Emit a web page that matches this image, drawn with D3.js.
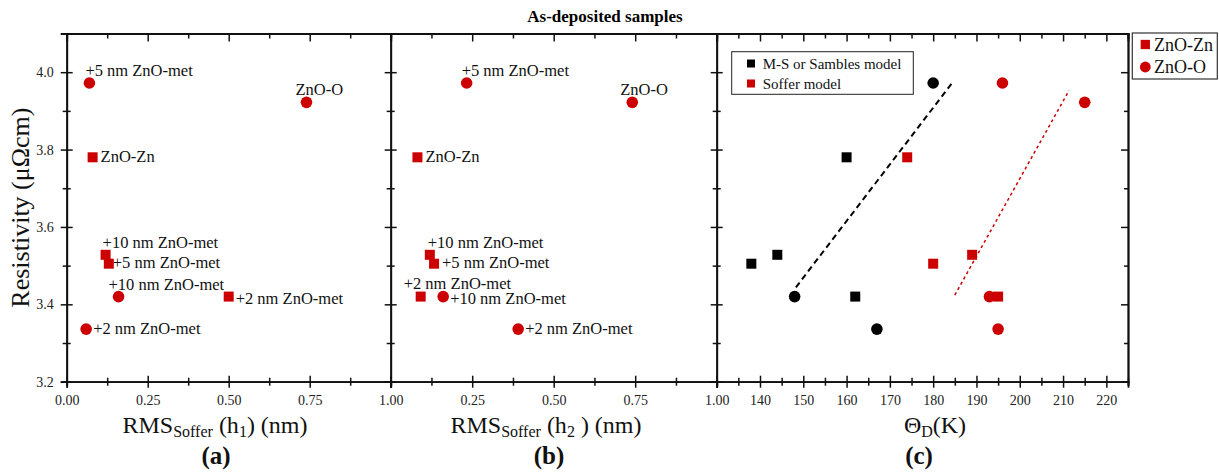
<!DOCTYPE html>
<html>
<head>
<meta charset="utf-8">
<script src="https://cdn.jsdelivr.net/npm/d3@7"></script>
<style>
  html, body { margin: 0; padding: 0; background: #fff; }
  svg { display: block; font-family: "Liberation Serif", "Times New Roman", serif; }
  svg text { font-family: "Liberation Serif", "Times New Roman", serif; }
</style>
</head>
<body>
<svg id="chart" width="1219" height="473"></svg>
<script>
// ---------------- DATA ----------------
const sampleLabels = ["+5 nm ZnO-met", "ZnO-O", "ZnO-Zn", "+10 nm ZnO-met", "+5 nm ZnO-met", "+10 nm ZnO-met", "+2 nm ZnO-met", "+2 nm ZnO-met"];
const sampleSeries = ["ZnO-O", "ZnO-O", "ZnO-Zn", "ZnO-Zn", "ZnO-Zn", "ZnO-O", "ZnO-Zn", "ZnO-O"];
const resistivity = [3.972, 3.922, 3.78, 3.528, 3.505, 3.42, 3.42, 3.336];
const rmsH1 = [0.07, 0.74, 0.08, 0.12, 0.13, 0.16, 0.50, 0.06];
const rmsH2 = [0.233, 0.741, 0.082, 0.12, 0.133, 0.161, 0.092, 0.391];
const thetaMS = [180, null, 160, 144, 138, 148, 162, 167];
const thetaSoffer = [196, 215, 174, 189, 180, 193, 195, 195];
const msFitTheta = [148.3, 184.5];
const msFitRes = [3.444, 3.974];
const sofferFitTheta = [185.0, 211.4];
const sofferFitRes = [3.424, 3.953];

const yTicks = [3.2, 3.4, 3.6, 3.8, 4.0];
const yMinor = [3.3, 3.5, 3.7, 3.9, 4.1];
const rmsTicks = [0, 0.25, 0.5, 0.75, 1.0];
const rmsMinor = [0.125, 0.375, 0.625, 0.875];
const thetaTicks = [140, 150, 160, 170, 180, 190, 200, 210, 220];
const thetaMinor = [135, 145, 155, 165, 175, 185, 195, 205, 215, 225];
const modelLegend = ["M-S or Sambles model", "Soffer model"];
const seriesLegend = ["ZnO-Zn", "ZnO-O"];

// -------------- LAYOUT / STYLE --------------
// label offsets (dx, dy) from marker centre for panels (a) and (b)
const labelOffA = [[-4, -7], [-11, -7], [8, 5], [-3, -7], [4, 4], [-10, -7], [7, 7], [7, 5]];
const labelOffB = [[-5, -7], [-12, -7], [8, 5], [-2, -7], [8, 4], [7, 7], [-17, -8], [7, 5]];
const RED = "#cc0000";
const FONT_LABEL = 16.5;
const SERIF = "'Liberation Serif', 'Times New Roman', serif";
const svg = d3.select("#chart");
const plotTop = 33.5, plotBottom = 381.7;
const y = d3.scaleLinear().domain([3.2, 4.1]).range([plotBottom, plotTop]);
const xA = d3.scaleLinear().domain([0, 1]).range([66.7, 390.7]);
const xB = d3.scaleLinear().domain([0, 1]).range([390.7, 716.7]);
const xC = d3.scaleLinear().domain([130, 225]).range([716.7, 1128]);

function drawMarker(g, shape, cx, cy, color, size) {
  if (shape === "ZnO-O") {
    g.append("circle").attr("cx", cx).attr("cy", cy).attr("r", size * 0.58).attr("fill", color);
  } else {
    g.append("rect").attr("x", cx - size / 2).attr("y", cy - size / 2)
      .attr("width", size).attr("height", size).attr("fill", color);
  }
}

function styleAxis(g) {
  g.attr("font-family", SERIF);
  g.select(".domain").attr("stroke", "#111").attr("stroke-width", 1.8);
  g.selectAll(".tick line").attr("stroke", "#111").attr("stroke-width", 1.5);
}

function frame(x, xMajor, xMinor, labelVals, opts) {
  const g = svg.append("g");
  const bMaj = g.append("g").attr("transform", `translate(0,${plotBottom})`)
    .call(d3.axisBottom(x).tickValues(xMajor).tickSizeOuter(0).tickSize(6)
      .tickFormat(d => labelVals.includes(d) ? d3.format(opts.fmt)(d) : ""));
  bMaj.selectAll(".tick line").attr("y1", -6);
  bMaj.selectAll(".tick text").attr("y", 23.3).attr("dy", 0).attr("font-size", 14)
    .attr("fill", "#222");
  styleAxis(bMaj);
  const bMin = g.append("g").attr("transform", `translate(0,${plotBottom})`)
    .call(d3.axisBottom(x).tickValues(xMinor).tickSizeOuter(0).tickSize(4).tickFormat(""));
  bMin.selectAll(".tick line").attr("y1", -4);
  styleAxis(bMin);
  const tMaj = g.append("g").attr("transform", `translate(0,${plotTop})`)
    .call(d3.axisTop(x).tickValues(xMajor).tickSizeOuter(0).tickSize(-8).tickFormat(""));
  styleAxis(tMaj);
  const tMin = g.append("g").attr("transform", `translate(0,${plotTop})`)
    .call(d3.axisTop(x).tickValues(xMinor).tickSizeOuter(0).tickSize(-5).tickFormat(""));
  styleAxis(tMin);
  const x0 = x.range()[0];
  const lMaj = g.append("g").attr("transform", `translate(${x0},0)`)
    .call(d3.axisLeft(y).tickValues(yTicks).tickSizeOuter(0).tickSize(6)
      .tickFormat(opts.yLabels ? d3.format(".1f") : ""));
  lMaj.selectAll(".tick line").attr("x1", 6);
  lMaj.selectAll(".tick text").attr("x", -13).attr("font-size", 14).attr("fill", "#222");
  styleAxis(lMaj);
  const lMin = g.append("g").attr("transform", `translate(${x0},0)`)
    .call(d3.axisLeft(y).tickValues(yMinor).tickSizeOuter(0).tickSize(4).tickFormat(""));
  lMin.selectAll(".tick line").attr("x1", 4);
  styleAxis(lMin);
  if (opts.right) {
    const x1 = x.range()[1];
    const rMaj = g.append("g").attr("transform", `translate(${x1},0)`)
      .call(d3.axisRight(y).tickValues(yTicks).tickSizeOuter(0).tickSize(-7).tickFormat(""));
    styleAxis(rMaj);
    const rMin = g.append("g").attr("transform", `translate(${x1},0)`)
      .call(d3.axisRight(y).tickValues(yMinor).tickSizeOuter(0).tickSize(-4).tickFormat(""));
    styleAxis(rMin);
  }
  return g;
}

frame(xA, rmsTicks, rmsMinor, rmsTicks, { fmt: ".2f", yLabels: true });
frame(xB, rmsTicks, rmsMinor, [0.25, 0.5, 0.75, 1.0], { fmt: ".2f" });
frame(xC, thetaTicks.concat([130]), thetaMinor, thetaTicks, { fmt: "d", right: true });

function scatterPanel(x, xs, offs) {
  const g = svg.append("g");
  xs.forEach((v, i) => {
    const cx = x(v), cy = y(resistivity[i]);
    drawMarker(g, sampleSeries[i], cx, cy, RED, 10);
    g.append("text").attr("x", cx + offs[i][0]).attr("y", cy + offs[i][1])
      .attr("font-size", FONT_LABEL).attr("fill", "#111").text(sampleLabels[i]);
  });
}
scatterPanel(xA, rmsH1, labelOffA);
scatterPanel(xB, rmsH2, labelOffB);

const gc = svg.append("g");
const line = d3.line().x(d => xC(d[0])).y(d => y(d[1]));
gc.append("path").datum(d3.zip(msFitTheta, msFitRes)).attr("d", line)
  .attr("stroke", "#000").attr("stroke-width", 2).attr("stroke-dasharray", "6,4").attr("fill", "none");
gc.append("path").datum(d3.zip(sofferFitTheta, sofferFitRes)).attr("d", line)
  .attr("stroke", RED).attr("stroke-width", 1.5).attr("stroke-dasharray", "3,3").attr("fill", "none");
thetaMS.forEach((v, i) => {
  if (v == null) return;
  drawMarker(gc, sampleSeries[i], xC(v), y(resistivity[i]), "#000", 10);
});
thetaSoffer.forEach((v, i) => {
  drawMarker(gc, sampleSeries[i], xC(v), y(resistivity[i]), RED, 10);
});

const lg = svg.append("g");
lg.append("rect").attr("x", 731.7).attr("y", 51.7).attr("width", 181.6).attr("height", 42.6)
  .attr("fill", "#fff").attr("stroke", "#222").attr("stroke-width", 1);
modelLegend.forEach((t, i) => {
  const cy = 63.5 + i * 20;
  lg.append("rect").attr("x", 751 - 4).attr("y", cy - 4).attr("width", 8).attr("height", 8)
    .attr("fill", i === 0 ? "#000" : RED);
  lg.append("text").attr("x", 762.7).attr("y", cy + 5).attr("font-size", 15).attr("fill", "#111").text(t);
});

const og = svg.append("g");
og.append("rect").attr("x", 1132.3).attr("y", 33).attr("width", 85).attr("height", 46)
  .attr("fill", "#fff").attr("stroke", "#333").attr("stroke-width", 1.2);
seriesLegend.forEach((t, i) => {
  const cy = 44.5 + i * 22.5;
  drawMarker(og, t, 1145.3, cy, RED, 9.3);
  og.append("text").attr("x", 1154).attr("y", cy + 6).attr("font-size", 18).attr("fill", "#111").text(t);
});

svg.append("text").attr("x", 605).attr("y", 21.5).attr("text-anchor", "middle")
  .attr("font-weight", "bold").attr("font-size", 17).text("As-deposited samples");

svg.append("text").attr("transform", `translate(29,${(plotTop + plotBottom) / 2}) rotate(-90)`)
  .attr("text-anchor", "middle").attr("font-size", 26).attr("fill", "#111").text("Resistivity (μΩcm)");

function xTitle(cx, parts) {
  const t = svg.append("text").attr("x", cx).attr("y", 433).attr("text-anchor", "middle")
    .attr("font-size", 24).attr("fill", "#111");
  parts.forEach(p => {
    const s = t.append("tspan").text(p[0]);
    if (p[1]) s.attr("font-size", 16).attr("dy", 4);
    else if (p[2]) s.attr("dy", -4);
  });
}
xTitle(215, [["RMS"], ["Soffer", true], [" (h", false, true], ["1", true], [") (nm)", false, true]]);
xTitle(546, [["RMS"], ["Soffer", true], [" (h", false, true], ["2", true], [" ) (nm)", false, true]]);
xTitle(935, [["Θ"], ["D", true], ["(K)", false, true]]);

[["(a)", 216], ["(b)", 549], ["(c)", 919]].forEach(d => {
  svg.append("text").attr("x", d[1]).attr("y", 464).attr("text-anchor", "middle")
    .attr("font-weight", "bold").attr("font-size", 25).attr("fill", "#111").text(d[0]);
});
</script>
</body>
</html>
